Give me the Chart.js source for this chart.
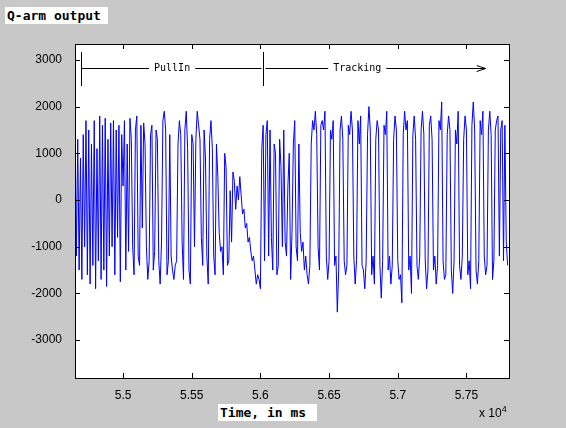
<!DOCTYPE html>
<html>
<head>
<meta charset="utf-8">
<script src="https://cdn.jsdelivr.net/npm/chart.js@4"></script>
<style>
  body { margin: 0; background: #c8c8c8; }
  #wrap { position: relative; width: 566px; height: 428px; }
  .lbl { position: absolute; background: #fff; font: bold 13px "DejaVu Sans Mono", monospace; color: #000; line-height: 17px; padding: 0 2px; }
  #exp { position: absolute; left: 479px; top: 404px; font: 12px "Liberation Sans", Arial, sans-serif; }
</style>
</head>
<body>
<div id="wrap">
  <canvas id="qChart" width="566" height="428"></canvas>
  <div class="lbl" style="left:5px;top:7px;width:99px;">Q-arm output</div>
  <div class="lbl" style="left:218px;top:404px;width:95px;">Time, in ms</div>
  <div id="exp">x 10<sup style="font-size:9px">4</sup></div>
</div>
<script>
// sampling grid of the trace (ms)
var startTime = 54650;
var sampleStep = 10;

// Q-arm output samples
var qArm = [
  1600,-1200,1300,-1500,900,-1700,1400,-1000,1700,-1600,
  1500,-1800,1200,-1400,1700,-1900,1100,-1300,1800,-1700,
  1600,-1500,1750,-1850,1300,-1200,1650,-1000,1700,-1600,
  1500,-800,1600,-1750,1400,300,1700,-1500,1200,-1100,
  1750,1300,-1000,-1600,1500,1800,-1200,-1400,1600,-600,
  1650,1200,-1000,-1700,-1300,1400,1600,-1500,-1100,1500,
  1300,-1300,-1800,-900,1700,1900,1500,-1600,-1300,1400,
  -1200,-1500,-1700,-1400,-1300,1200,1700,1400,-900,-1700,
  1500,1900,1100,-1500,-1800,1400,1200,-1000,1300,1900,
  1600,1300,-800,-1400,1500,900,-1200,-1800,1300,1700,
  1100,-1200,-1600,1200,500,-700,-1100,-1000,-1600,1000,
  700,-1400,-1300,200,-900,600,400,-200,300,0,
  500,100,-300,-200,-600,-500,-900,-800,-1100,-1300,
  -1200,-1500,-1800,-1600,-1700,-1900,1100,1600,-1300,1400,
  1700,-1200,1500,-800,-1500,1200,1000,-1600,-1400,1300,
  700,-1000,1500,-900,-1200,300,1000,-1700,-700,1200,
  1700,-1000,-1300,1200,-700,-1100,-900,-1500,-1200,-1600,
  -1800,-1400,1200,1700,1500,1900,1400,-1000,-1500,1600,
  1700,1500,1900,-1200,-1700,-1300,1500,1300,1700,-1400,
  -1200,-2400,-1500,1500,1800,1300,-1300,-1600,-1400,1600,
  1400,1900,1500,-1200,-1800,-1300,1700,1200,1800,-1400,
  -1500,-1900,-1300,1400,2000,1500,-1600,-1200,-1800,1300,
  1700,1500,-1400,-2100,-1300,1600,1400,1900,-1500,-1200,
  -1800,-1400,1300,1800,1500,-1300,-1700,-1600,-2200,1400,
  1900,1500,1700,-1500,-1200,-2000,1400,1800,1300,-1400,
  -1700,-1200,1500,1900,1400,-1300,-1900,-1500,1600,1800,
  1300,-1500,-1200,-1800,-1400,1700,1500,2100,-1300,-1700,
  -1600,1400,1800,1500,-1500,-2000,-1300,1500,1200,1900,
  -1400,-1700,-1200,1300,1800,1500,-1600,-1300,-1900,1600,
  2100,1500,-1500,-1800,-1300,1700,1400,1900,-1200,-1600,
  -1400,1500,1900,1400,-1700,-1300,1500,1700,1800,-1200,
  1500,1700,-1300,1600,-900,-1400
];

var xTicks = [55000, 55500, 56000, 56500, 57000, 57500];
var yTicks = [-3000, -2000, -1000, 0, 1000, 2000, 3000];

// phase markers
var pullInStart = 54694;
var trackingStart = 56020;
var trackingEnd = 57640;
var pullInLabelAt = 55357;
var trackingLabelAt = 56705;

var points = qArm.map(function (v, i) {
  return { x: startTime + i * sampleStep, y: v };
});

var frame = {
  id: 'frame',
  afterDraw: function (chart) {
    var ctx = chart.ctx, a = chart.chartArea;
    var xs = chart.scales.x, ys = chart.scales.y;
    ctx.save();
    ctx.strokeStyle = '#000';
    ctx.lineWidth = 1;
    ctx.strokeRect(a.left + 0.5, a.top + 0.5, a.right - a.left, a.bottom - a.top);
    ctx.beginPath();
    xTicks.forEach(function (t) {
      var px = Math.round(xs.getPixelForValue(t)) + 0.5;
      ctx.moveTo(px, a.bottom); ctx.lineTo(px, a.bottom - 5);
      ctx.moveTo(px, a.top); ctx.lineTo(px, a.top + 5);
    });
    yTicks.forEach(function (t) {
      var py = Math.round(ys.getPixelForValue(t)) + 0.5;
      ctx.moveTo(a.left, py); ctx.lineTo(a.left + 5, py);
      ctx.moveTo(a.right, py); ctx.lineTo(a.right - 5, py);
    });
    ctx.stroke();

    // PullIn / Tracking annotation
    var yLine = Math.round(ys.getPixelForValue(2830)) + 0.5;
    var yTop = ys.getPixelForValue(3170), yBot = ys.getPixelForValue(2440);
    var x0 = Math.round(xs.getPixelForValue(pullInStart)) + 0.5;
    var x1 = Math.round(xs.getPixelForValue(trackingStart)) + 0.5;
    var x2 = xs.getPixelForValue(trackingEnd);
    ctx.beginPath();
    ctx.moveTo(x0, yTop); ctx.lineTo(x0, yBot);
    ctx.moveTo(x1, yTop); ctx.lineTo(x1, yBot);
    ctx.moveTo(x0, yLine); ctx.lineTo(x1 - 2, yLine);
    ctx.moveTo(x1 + 2, yLine); ctx.lineTo(x2, yLine);
    ctx.moveTo(x2 - 9, yLine - 3); ctx.lineTo(x2, yLine); ctx.lineTo(x2 - 9, yLine + 3);
    ctx.stroke();
    ctx.font = '10px "DejaVu Sans Mono", monospace';
    ctx.textAlign = 'center';
    ctx.textBaseline = 'middle';
    [['PullIn', xs.getPixelForValue(pullInLabelAt)], ['Tracking', xs.getPixelForValue(trackingLabelAt)]].forEach(function (l) {
      var w = ctx.measureText(l[0]).width + 10;
      ctx.fillStyle = '#fff';
      ctx.fillRect(l[1] - w / 2, yLine - 6, w, 12);
      ctx.fillStyle = '#000';
      ctx.fillText(l[0], l[1], yLine);
    });
    ctx.restore();
  }
};

var whiteArea = {
  id: 'whiteArea',
  beforeDraw: function (chart) {
    var ctx = chart.ctx, a = chart.chartArea;
    ctx.save();
    ctx.fillStyle = '#c8c8c8';
    ctx.fillRect(0, 0, chart.width, chart.height);
    ctx.fillStyle = '#fff';
    ctx.fillRect(a.left, a.top, a.right - a.left, a.bottom - a.top);
    ctx.restore();
  }
};

new Chart(document.getElementById('qChart'), {
  type: 'line',
  data: {
    datasets: [{
      data: points,
      borderColor: '#0000ff',
      borderWidth: 1,
      pointRadius: 0,
      tension: 0
    }]
  },
  options: {
    responsive: false,
    animation: false,
    layout: { padding: { top: 44, right: 57, left: 0, bottom: 0 } },
    plugins: { legend: { display: false }, tooltip: { enabled: false } },
    scales: {
      x: {
        type: 'linear',
        min: 54650,
        max: 57810,
        afterBuildTicks: function (s) { s.ticks = xTicks.map(function (v) { return { value: v }; }); },
        afterFit: function (s) { s.height = 50; },
        grid: { display: false },
        border: { display: false },
        ticks: {
          color: '#000',
          font: { family: '"Liberation Sans", Arial, sans-serif', size: 12 },
          padding: 2,
          maxRotation: 0,
          callback: function (v) { return String(v / 10000); }
        }
      },
      y: {
        min: -3810,
        max: 3340,
        afterBuildTicks: function (s) { s.ticks = yTicks.map(function (v) { return { value: v }; }); },
        afterFit: function (s) { s.width = 75; },
        grid: { display: false },
        border: { display: false },
        ticks: {
          color: '#000',
          font: { family: '"Liberation Sans", Arial, sans-serif', size: 12 },
          padding: 5,
          callback: function (v) { return String(v); }
        }
      }
    }
  },
  plugins: [whiteArea, frame]
});
</script>
</body>
</html>
